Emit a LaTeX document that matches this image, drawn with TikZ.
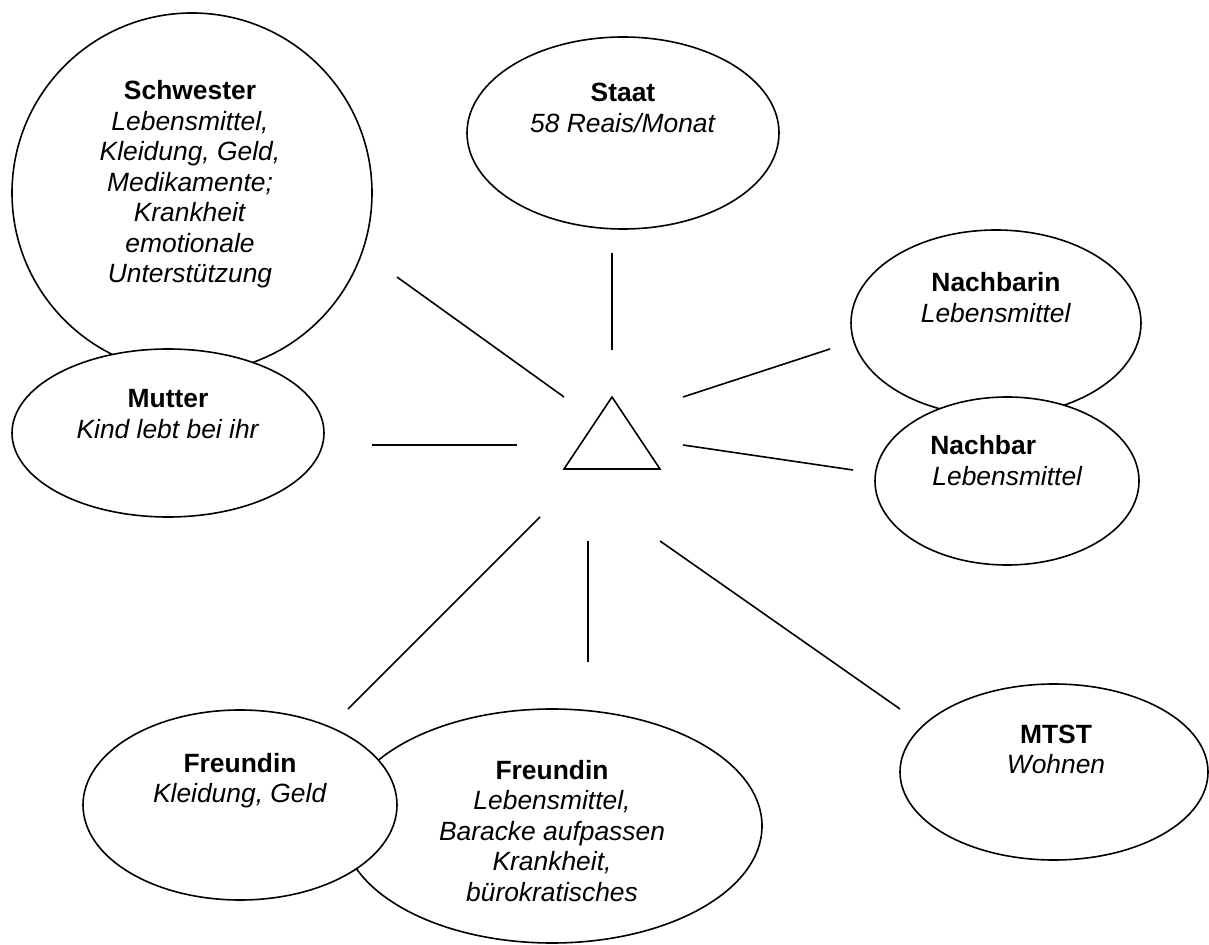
\documentclass[tikz,border=0pt]{standalone}
\usepackage{fontspec}
\setmainfont{Liberation Sans}
\usetikzlibrary{shapes.geometric}
\newcommand{\blk}[2]{\begin{tabular}[t]{@{}c@{}}\textbf{#1}\\#2\end{tabular}}
\tikzset{
  ell/.style={draw, ellipse, fill=white, inner sep=0pt, line width=0.8pt},
  lbl/.style={anchor=base, inner sep=0pt, font=\fontsize{13.2}{15.25}\selectfont},
  conn/.style={line width=0.8pt},
}
\begin{document}
\begin{tikzpicture}[x=0.5pt, y=-0.5pt]
\useasboundingbox (0,0) rectangle (1209,945);
% ellipses (back ones first)
\node[ell, minimum width=180pt, minimum height=180pt] (schw) at (192,193) {};
\node[ell, minimum width=156pt, minimum height=84pt] (mutt) at (168,433) {};
\node[ell, minimum width=156pt, minimum height=96pt] (staat) at (623,133) {};
\node[ell, minimum width=145pt, minimum height=93pt] (nbin) at (996,323) {};
\node[ell, minimum width=132pt, minimum height=84pt] (nbar) at (1007,481) {};
\node[ell, minimum width=154pt, minimum height=88pt] (mtst) at (1054,772) {};
\node[ell, minimum width=210pt, minimum height=117pt] (fr2) at (552,826) {};
\node[ell, minimum width=157pt, minimum height=95pt] (fr1) at (240,805) {};
% texts
\node[lbl] (schwT) at (190,100) {\blk{Schwester}{\textit{Lebensmittel,}\\\textit{Kleidung, Geld,}\\\textit{Medikamente;}\\\textit{Krankheit}\\\textit{emotionale}\\\textit{Unterstützung}}};
\node[lbl] (muttT) at (168,408) {\blk{Mutter}{\textit{Kind lebt bei ihr}}};
\node[lbl] (staatT) at (623,102) {\blk{Staat}{\textit{58 Reais/Monat}}};
\node[lbl] (nbinT) at (996,292) {\blk{Nachbarin}{\textit{Lebensmittel}}};
\node[lbl, anchor=base west] (nbarT) at (930,455) {\begin{tabular}[t]{@{}l@{}}\textbf{Nachbar}\\\hspace{1pt}\textit{Lebensmittel}\end{tabular}};
\node[lbl] (mtstT) at (1056,743) {\blk{MTST}{\textit{Wohnen}}};
\node[lbl] (fr1T) at (240,772) {\blk{Freundin}{\textit{Kleidung, Geld}}};
\node[lbl] (fr2T) at (552,779) {\blk{Freundin}{\textit{Lebensmittel,}\\\textit{Baracke aufpassen}\\\textit{Krankheit,}\\\textit{bürokratisches}}};
% central triangle
\coordinate (egoT) at (612,397);
\coordinate (egoL) at (564,469);
\coordinate (egoR) at (660,469);
\draw[conn, line join=miter] (egoT) -- (egoL) -- (egoR) -- cycle;
% connector end points
\coordinate (cSa) at (397,277); \coordinate (cSb) at (564,397);
\coordinate (cTa) at (612,253); \coordinate (cTb) at (612,350);
\coordinate (cNia) at (830,349); \coordinate (cNib) at (683,397);
\coordinate (cNa) at (853,470); \coordinate (cNb) at (683,445);
\coordinate (cMa) at (372,445); \coordinate (cMb) at (517,445);
\coordinate (cF1a) at (348,709); \coordinate (cF1b) at (540,517);
\coordinate (cF2a) at (588,662); \coordinate (cF2b) at (588,541);
\coordinate (cMTa) at (900,709); \coordinate (cMTb) at (660,541);
\draw[conn] (cSa) -- (cSb);
\draw[conn] (cTa) -- (cTb);
\draw[conn] (cNia) -- (cNib);
\draw[conn] (cNa) -- (cNb);
\draw[conn] (cMa) -- (cMb);
\draw[conn] (cF1a) -- (cF1b);
\draw[conn] (cF2a) -- (cF2b);
\draw[conn] (cMTa) -- (cMTb);
\end{tikzpicture}
\end{document}
